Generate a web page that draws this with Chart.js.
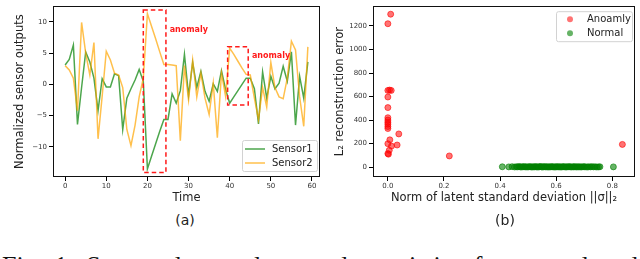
<!DOCTYPE html>
<html>
<head>
<meta charset="utf-8">
<script src="https://cdn.jsdelivr.net/npm/chart.js@4.4.1/dist/chart.umd.min.js"></script>
<style>
  html, body { margin:0; padding:0; background:#fff; }
  #wrap { position:relative; width:640px; height:259px; overflow:hidden; }
  canvas { position:absolute; top:0; }
  .sub { position:absolute; width:100px; text-align:center; font:14px "DejaVu Sans"; line-height:16px; color:#222; }
  #cap { position:absolute; left:2px; top:253px; width:636px; font:26px "Liberation Serif", serif; line-height:26px; text-align:justify; color:#111; }
</style>
</head>
<body>
<div id="wrap">
  <canvas id="ca" width="322" height="210" style="left:0"></canvas>
  <canvas id="cb" width="320" height="210" style="left:320px"></canvas>
  <div class="sub" style="left:135px;top:212px">(a)</div>
  <div class="sub" style="left:455px;top:212px">(b)</div>
  <div id="cap">Fig. 1: Sensor data and anomaly statistics for normal and anomalous samples in the latent space of the model.</div>
</div>
<script>
// ---- chart (a) data ----
const time = [0,1,2,3,4,5,6,7,8,9,10,11,12,13,14,15,16,17,18,19,
  20,21,22,23,24,25,26,27,28,29,30,31,32,33,34,35,36,37,38,39,
  40,41,42,43,44,45,46,47,48,49,50,51,52,53,54,55,56,57,58,59];
const sensor1 = [3.1, 4.0, 6.3, -6.4, -0.5, 5.2, 3.6, 1.0, -4.2, 0.9,
  -0.4, -0.4, 1.7, 1.4, -7.2, -2.2, -0.7, 0.7, 2.4, 0.5,
  -13.5, -11.5, -9.5, -7.5, -5.6, -5.6, -1.5, -3.0, -1.0, 4.8,
  -1.8, 3.5, -0.5, 2.1, -1.1, -2.7, 0.1, -1.1, 2.2, -0.8,
  -3.0, -2.0, -1.0, 0.0, 1.0, 1.0, -0.7, -6.3, 2.0, -2.2,
  1.3, -0.7, 0.2, 2.9, 0.5, 5.2, -6.5, 1.3, -2.2, 3.6];
const sensor2 = [3.0, 2.3, 1.0, -4.2, 9.9, 5.0, 1.5, 6.7, -8.7, -1.9,
  5.3, 3.9, 1.8, 1.5, -0.5, -7.2, -9.8, -6.5, -2.0, 1.0,
  11.3, 9.3, 7.3, 5.2, 3.2, 3.2, 3.1, 3.0, -9.0, 3.0,
  -2.5, 3.9, -2.0, 1.8, -2.2, -4.8, 0.2, -8.5, 1.8, -1.9,
  5.8, 4.8, 3.7, 2.6, 1.6, 1.5, -2.2, -5.6, -0.5, -3.6,
  3.5, -0.5, -2.0, -2.3, 1.0, 6.9, 5.5, -2.0, -6.7, 6.0];
const xTicksA = [0, 10, 20, 30, 40, 50, 60];
const yTicksA = [-10, -5, 0, 5, 10];
// anomaly windows in data units: [t start, t end, value low, value high]
const anomalyBoxes = [[19.0, 24.5, -14.1, 11.9], [39.5, 44.5, -3.3, 6.0]];
const anomalyLabels = [[25.4, 8.7], [45.4, 4.6]];

// ---- chart (b) data ----
const anomalyX = [0.010, 0.000, 0.000, 0.006, 0.012, 0.000, 0.000, 0.000, 0.000, 0.000,
  0.000, 0.000, 0.000, 0.039, 0.007, 0.000, 0.033, 0.013, 0.005, 0.000,
  0.002, 0.219, 0.836];
const anomalyY = [1300, 1219, 652, 655, 652, 596, 506, 420, 400, 382,
  365, 345, 328, 282, 232, 199, 188, 179, 143, 115,
  110, 95, 193];
const normalX = [0.408, 0.431, 0.443, 0.452, 0.458, 0.463, 0.468, 0.472, 0.476, 0.481,
  0.484, 0.489, 0.492, 0.496, 0.501, 0.504, 0.508, 0.512, 0.515, 0.519,
  0.523, 0.526, 0.530, 0.533, 0.537, 0.541, 0.544, 0.548, 0.551, 0.555,
  0.558, 0.562, 0.566, 0.569, 0.573, 0.576, 0.580, 0.584, 0.587, 0.591,
  0.595, 0.598, 0.602, 0.605, 0.609, 0.613, 0.616, 0.620, 0.624, 0.627,
  0.631, 0.635, 0.638, 0.642, 0.646, 0.649, 0.653, 0.657, 0.661, 0.664,
  0.668, 0.672, 0.676, 0.680, 0.684, 0.688, 0.692, 0.697, 0.701, 0.706,
  0.711, 0.716, 0.722, 0.727, 0.733, 0.739, 0.745, 0.751, 0.756, 0.804];
const normalY = [3, 2, 4, 1, 3, 2, 5, 2, 1, 3,
  4, 2, 3, 1, 2, 4, 3, 2, 1, 3,
  2, 4, 3, 1, 2, 3, 5, 2, 1, 3,
  4, 2, 3, 2, 1, 3, 2, 4, 3, 2,
  1, 3, 2, 4, 2, 3, 1, 2, 3, 4,
  2, 1, 3, 2, 4, 3, 1, 2, 3, 2,
  4, 1, 3, 2, 3, 1, 2, 4, 3, 2,
  1, 3, 2, 4, 2, 3, 1, 2, 3, 2];
const xTicksB = [0.0, 0.2, 0.4, 0.6, 0.8];
const yTicksB = [0, 200, 400, 600, 800, 1000, 1200];

// ---- styles ----
const FAM = '"DejaVu Sans"';
const GREEN = 'rgba(0,128,0,0.7)';
const ORANGE = 'rgba(255,165,0,0.7)';
const tickFont = { family: FAM, size: 7 };
const titleFont = { family: FAM, size: 11.5 };
const minus = v => String(v).replace('-', '\u2212');
const gridOpt = { display: true, drawOnChartArea: false, drawTicks: true, tickLength: 4, tickColor: '#000', tickWidth: 1 };

const framePlugin = {
  id: 'frame',
  afterDraw(chart) {
    const { ctx, chartArea: a } = chart;
    ctx.save();
    ctx.strokeStyle = '#111';
    ctx.lineWidth = 1;
    ctx.strokeRect(Math.round(a.left) + 0.5, Math.round(a.top) + 0.5,
      Math.round(a.right - a.left) - 1, Math.round(a.bottom - a.top) - 1);
    ctx.restore();
  }
};

function roundBox(ctx, x, y, w, h, r) {
  ctx.beginPath();
  ctx.moveTo(x + r, y);
  ctx.arcTo(x + w, y, x + w, y + h, r);
  ctx.arcTo(x + w, y + h, x, y + h, r);
  ctx.arcTo(x, y + h, x, y, r);
  ctx.arcTo(x, y, x + w, y, r);
  ctx.closePath();
  ctx.fillStyle = 'rgba(255,255,255,0.85)';
  ctx.fill();
  ctx.strokeStyle = '#d2d2d2';
  ctx.lineWidth = 1;
  ctx.stroke();
}

const annotPlugin = {
  id: 'annot',
  afterDatasetsDraw(chart) {
    const { ctx } = chart;
    const xs = chart.scales.x, ys = chart.scales.y;
    ctx.save();
    ctx.strokeStyle = '#ff1a1a';
    ctx.lineWidth = 1.5;
    ctx.setLineDash([4.5, 3]);
    anomalyBoxes.forEach(b => {
      const x0 = xs.getPixelForValue(b[0]), x1 = xs.getPixelForValue(b[1]);
      const y0 = ys.getPixelForValue(b[3]), y1 = ys.getPixelForValue(b[2]);
      ctx.strokeRect(x0, y0, x1 - x0, y1 - y0);
    });
    ctx.setLineDash([]);
    ctx.fillStyle = '#ff1a1a';
    ctx.font = 'bold 8px ' + FAM;
    ctx.textBaseline = 'middle';
    ctx.textAlign = 'left';
    anomalyLabels.forEach(p => {
      ctx.fillText('anomaly', xs.getPixelForValue(p[0]), ys.getPixelForValue(p[1]));
    });
    ctx.restore();
  }
};

const legendA = {
  id: 'legendA',
  afterDraw(chart) {
    const { ctx, chartArea: a } = chart;
    const bx = a.right - 78, by = a.bottom - 37;
    ctx.save();
    roundBox(ctx, bx + 0.5, by + 0.5, 75, 31, 2);
    ctx.font = '10px ' + FAM;
    ctx.textBaseline = 'middle';
    ctx.fillStyle = '#222';
    chart.data.datasets.forEach((d, i) => {
      const y = by + 9 + i * 14;
      ctx.strokeStyle = d.borderColor;
      ctx.lineWidth = 1.5;
      ctx.beginPath(); ctx.moveTo(bx + 3, y); ctx.lineTo(bx + 23, y); ctx.stroke();
      ctx.fillText(d.label, bx + 30, y + 0.5);
    });
    ctx.restore();
  }
};

const legendB = {
  id: 'legendB',
  afterDraw(chart) {
    const { ctx, chartArea: a } = chart;
    const bx = a.right - 79, by = a.top + 5;
    ctx.save();
    roundBox(ctx, bx + 0.5, by + 0.5, 76, 30, 2);
    ctx.font = '10px ' + FAM;
    ctx.textBaseline = 'middle';
    chart.data.datasets.forEach((d, i) => {
      const y = by + 8 + i * 14;
      ctx.beginPath(); ctx.arc(bx + 14, y, 3, 0, Math.PI * 2);
      ctx.fillStyle = d.backgroundColor; ctx.fill();
      ctx.fillStyle = '#222';
      ctx.fillText(d.label, bx + 31, y);
    });
    ctx.restore();
  }
};

new Chart(document.getElementById('ca'), {
  type: 'line',
  data: {
    datasets: [
      { label: 'Sensor1', data: time.map((t, i) => ({ x: t, y: sensor1[i] })), borderColor: GREEN,
        borderWidth: 1.5, pointRadius: 0, tension: 0, fill: false, order: 1 },
      { label: 'Sensor2', data: time.map((t, i) => ({ x: t, y: sensor2[i] })), borderColor: ORANGE,
        borderWidth: 1.5, pointRadius: 0, tension: 0, fill: false, order: 0 }
    ]
  },
  options: {
    responsive: false, animation: false, devicePixelRatio: 1,
    layout: { padding: { left: 0, top: 4, right: 2, bottom: 0 } },
    plugins: { legend: { display: false }, tooltip: { enabled: false } },
    scales: {
      x: {
        type: 'linear', min: -2.95, max: 61.95,
        afterBuildTicks: s => { s.ticks = xTicksA.map(v => ({ value: v })); },
        afterFit: s => { s.height = 33; },
        grid: gridOpt, border: { display: false },
        ticks: { font: tickFont, color: '#333', padding: 1, maxRotation: 0, autoSkip: false, callback: v => minus(v) },
        title: { display: true, text: 'Time', font: titleFont, color: '#222', padding: { top: 0, bottom: 5 } }
      },
      y: {
        type: 'linear', min: -14.8, max: 12.5,
        afterBuildTicks: s => { s.ticks = yTicksA.map(v => ({ value: v })); },
        afterFit: s => { s.width = 53; },
        grid: gridOpt, border: { display: false },
        ticks: { font: tickFont, color: '#333', padding: 2, autoSkip: false, callback: v => minus(v) },
        title: { display: true, text: 'Normalized sensor outputs', font: titleFont, color: '#222', padding: { top: 13, bottom: 0 } }
      }
    }
  },
  plugins: [framePlugin, annotPlugin, legendA]
});

new Chart(document.getElementById('cb'), {
  type: 'scatter',
  data: {
    datasets: [
      { label: 'Anoamly', data: anomalyX.map((x, i) => ({ x: x, y: anomalyY[i] })),
        backgroundColor: 'rgba(255,0,0,0.55)', borderColor: 'rgba(255,0,0,0.6)', borderWidth: 1, pointRadius: 3, order: 1 },
      { label: 'Normal', data: normalX.map((x, i) => ({ x: x, y: normalY[i] })),
        backgroundColor: 'rgba(0,128,0,0.6)', borderColor: 'rgba(0,128,0,0.6)', borderWidth: 1, pointRadius: 3, order: 0 }
    ]
  },
  options: {
    responsive: false, animation: false, devicePixelRatio: 1,
    layout: { padding: { left: 0, top: 4, right: 3, bottom: 0 } },
    plugins: { legend: { display: false }, tooltip: { enabled: false } },
    scales: {
      x: {
        type: 'linear', min: -0.053, max: 0.881,
        afterBuildTicks: s => { s.ticks = xTicksB.map(v => ({ value: v })); },
        afterFit: s => { s.height = 33; },
        grid: gridOpt, border: { display: false },
        ticks: { font: tickFont, color: '#333', padding: 1, maxRotation: 0, autoSkip: false, callback: v => Number(v).toFixed(1) },
        title: { display: true, text: 'Norm of latent standard deviation ||\u03c3||\u2082', font: titleFont, color: '#222', padding: { top: 0, bottom: 5 } }
      },
      y: {
        type: 'linear', min: -84, max: 1368,
        afterBuildTicks: s => { s.ticks = yTicksB.map(v => ({ value: v })); },
        afterFit: s => { s.width = 53; },
        grid: gridOpt, border: { display: false },
        ticks: { font: tickFont, color: '#333', padding: 2, autoSkip: false, callback: v => String(v) },
        title: { display: true, text: 'L\u2082 reconstruction error', font: titleFont, color: '#222', padding: { top: 13, bottom: 0 } }
      }
    }
  },
  plugins: [framePlugin, legendB]
});
</script>
</body>
</html>
